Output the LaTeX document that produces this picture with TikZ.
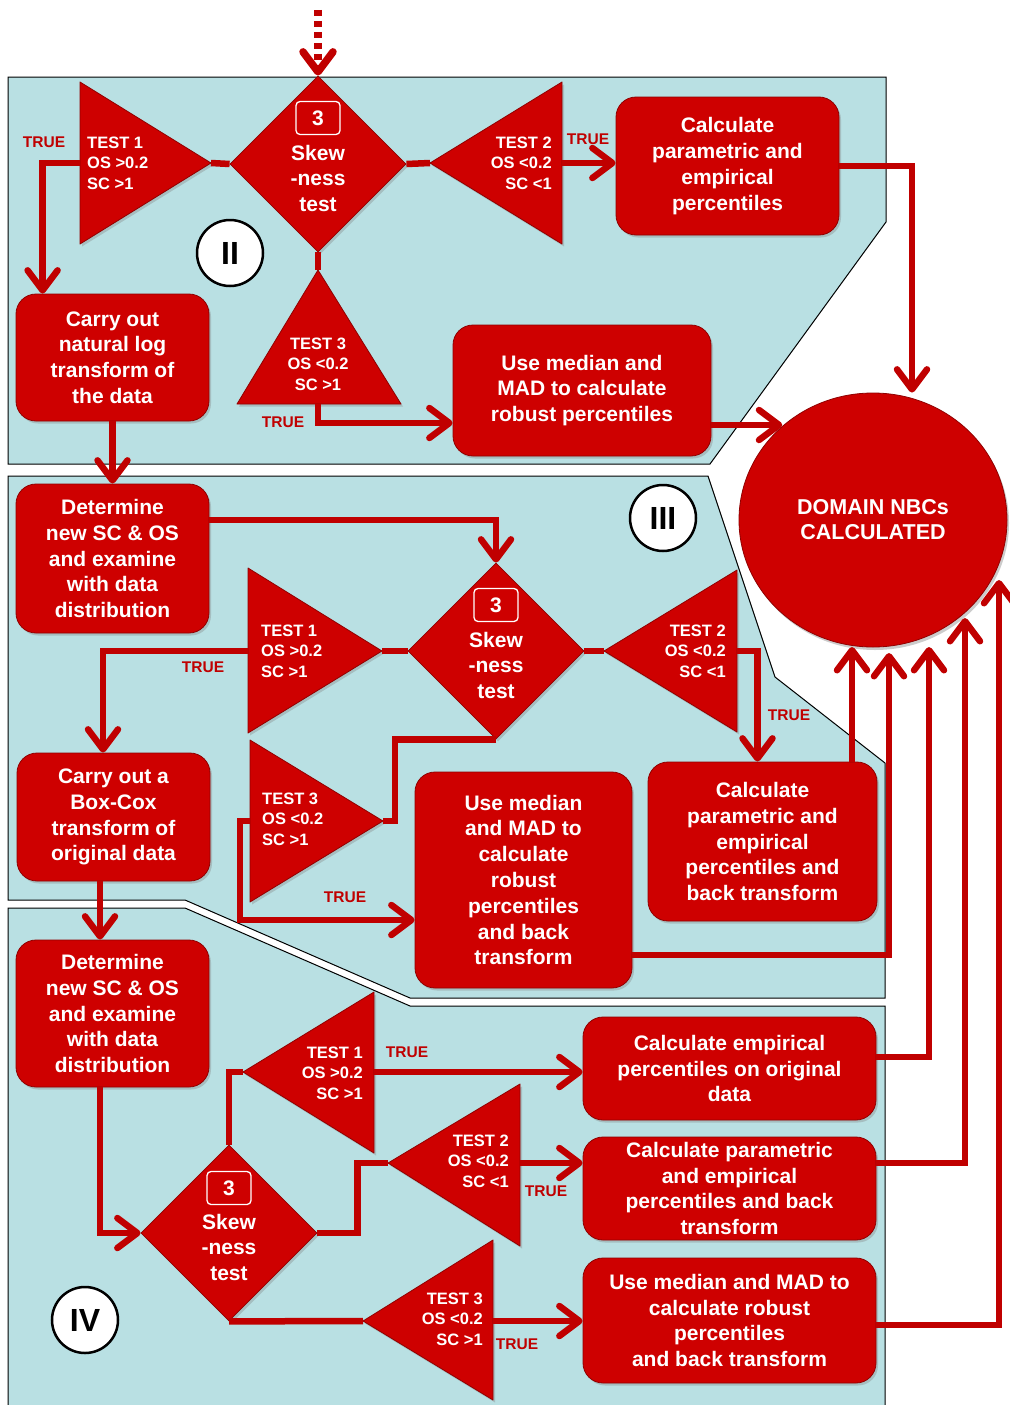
\documentclass[tikz,border=0pt]{standalone}
\usepackage{fontspec}
\setmainfont{Liberation Sans}
\usetikzlibrary{shapes.geometric,arrows.meta,shadows}

\definecolor{panelblue}{RGB}{185,224,227}
\definecolor{boxred}{RGB}{206,0,0}
\definecolor{linered}{RGB}{192,0,0}

\begin{document}
\begin{tikzpicture}[x=1pt, y=-1pt,
    panel/.style={fill=panelblue, draw=black, line width=1pt},
    redbox/.style={rectangle, rounded corners=20pt, fill=boxred, draw=boxred!70!black, line width=0.8pt,
        text=white, align=center, inner sep=0pt, font=\fontsize{21}{25.8}\selectfont\bfseries,
        drop shadow={shadow xshift=2pt, shadow yshift=-2.5pt, opacity=0.35}},
    skew/.style={diamond, minimum width=176pt, minimum height=176pt, inner sep=0pt, fill=boxred,
        draw=boxred!70!black, line width=0.8pt, drop shadow={shadow xshift=2pt, shadow yshift=-2.5pt, opacity=0.35}},
    testtri/.style={fill=boxred, draw=boxred!70!black, line width=0.8pt, line join=round,
        drop shadow={shadow xshift=2pt, shadow yshift=-2.5pt, opacity=0.35}},
    testtxt/.style={text=white, inner sep=0pt, font=\fontsize{16.5}{20.5}\selectfont\bfseries},
    skewtxt/.style={text=white, align=center, inner sep=0pt, font=\fontsize{21}{25.5}\selectfont\bfseries},
    numbox/.style={draw=white, line width=1.3pt, rounded corners=4pt, minimum width=44pt, minimum height=33pt,
        inner sep=0pt, text=white, font=\fontsize{21}{21}\selectfont\bfseries},
    truelbl/.style={text=linered, inner sep=0pt, font=\fontsize{15.5}{15.5}\selectfont\bfseries},
    roman/.style={circle, draw=black, line width=2.5pt, fill=white, minimum size=66pt, inner sep=0pt,
        font=\fontsize{32}{32}\selectfont\bfseries},
    endnode/.style={ellipse, minimum width=268pt, minimum height=254pt, inner sep=0pt, fill=boxred,
        draw=boxred!70!black, line width=0.8pt, text=white, align=center,
        font=\fontsize{21.5}{25}\selectfont\bfseries,
        drop shadow={shadow xshift=2pt, shadow yshift=-3pt, opacity=0.4}},
    conn/.style={draw=linered, line width=6.5pt},
    arr/.style={conn, -{Straight Barb[length=20pt,width=30pt,round]}},
    ]

\fill[white] (0,0) rectangle (1009,1405);
\useasboundingbox (0,0) rectangle (1009,1405);

% Panels
\draw[panel] (8,77) -- (886,77) -- (886,222) -- (710,464) -- (8,464) -- cycle;
\draw[panel] (8,476) -- (708,476) -- (775,677) -- (885,763) -- (885,998) -- (410,998) -- (185,900) -- (8,900) -- cycle;
\draw[panel] (8,1415) -- (8,908) -- (185,908) -- (410,1006) -- (885,1006) -- (885,1415);

\node[roman] (romII) at (230,253) {II};
\node[roman] (romIII) at (663,518) {III};
\node[roman] (romIV) at (85,1320) {IV};

% Panel II
\node[skew] (skewa) at (318,164) {};
\node[numbox] (numa) at ([yshift=46pt]skewa.center) {3};
\node[skewtxt] (skewat) at ([yshift=-14pt]skewa.center) {Skew\\-ness\\test};

\draw[testtri] (80,82) -- (211,163) -- (80,244) -- cycle;
\coordinate (ta1a) at (211,163);
\coordinate (ta1b) at (80,163);
\node[testtxt, anchor=west, align=left] (ta1t) at (87,163) {TEST 1\\OS >0.2\\SC >1};

\draw[testtri] (562,82) -- (430,163) -- (562,244) -- cycle;
\coordinate (ta2a) at (430,163);
\coordinate (ta2b) at (562,163);
\node[testtxt, anchor=east, align=right] (ta2t) at (552,163) {TEST 2\\OS <0.2\\SC <1};

\draw[testtri] (318,270) -- (401,404) -- (237,404) -- cycle;
\coordinate (ta3a) at (318,270);
\coordinate (ta3b) at (318,404);
\node[testtxt, align=center] (ta3t) at (318,364) {TEST 3\\OS <0.2\\SC >1};

\node[redbox, minimum width=223pt, minimum height=138pt] (calca) at (727.5,166) {Calculate\\parametric and\\empirical\\percentiles};
\node[redbox, minimum width=193pt, minimum height=127pt] (lnbox) at (112.5,357.5) {Carry out\\natural log\\transform of\\the data};
\node[redbox, minimum width=258pt, minimum height=131pt] (meda) at (582,390.5) {Use median and\\MAD to calculate\\robust percentiles};

\node[endnode] (done) at (873,520) {DOMAIN NBCs\\CALCULATED};

% Panel III
\node[redbox, minimum width=193pt, minimum height=149pt] (detb) at (112.5,558.5) {Determine\\new SC \& OS\\and examine\\with data\\distribution};

\node[skew] (skewb) at (496,651) {};
\node[numbox] (numb) at ([yshift=46pt]skewb.center) {3};
\node[skewtxt] (skewbt) at ([yshift=-14pt]skewb.center) {Skew\\-ness\\test};

\draw[testtri] (248,568) -- (382,651) -- (248,733) -- cycle;
\coordinate (tb1a) at (382,651);
\coordinate (tb1b) at (248,651);
\node[testtxt, anchor=west, align=left] (tb1t) at (261,651) {TEST 1\\OS >0.2\\SC >1};

\draw[testtri] (737,570) -- (604,651) -- (737,732) -- cycle;
\coordinate (tb2a) at (604,651);
\coordinate (tb2b) at (737,651);
\node[testtxt, anchor=east, align=right] (tb2t) at (726,651) {TEST 2\\OS <0.2\\SC <1};

\draw[testtri] (250,740) -- (383,821) -- (250,902) -- cycle;
\coordinate (tb3a) at (383,821);
\coordinate (tb3b) at (250,821);
\node[testtxt, anchor=west, align=left] (tb3t) at (262,819) {TEST 3\\OS <0.2\\SC >1};

\node[redbox, minimum width=193pt, minimum height=128pt] (boxcox) at (113.5,817) {Carry out a\\Box-Cox\\transform of\\original data};
\node[redbox, minimum width=217pt, minimum height=216pt] (medb) at (523.5,880) {Use median\\and MAD to\\calculate\\robust\\percentiles\\and back\\transform};
\node[redbox, minimum width=229pt, minimum height=159pt] (calcb) at (762.5,841.5) {Calculate\\parametric and\\empirical\\percentiles and\\back transform};

% Panel IV
\node[redbox, minimum width=193pt, minimum height=147pt] (detc) at (112.5,1013.5) {Determine\\new SC \& OS\\and examine\\with data\\distribution};

\node[skew] (skewc) at (229,1233) {};
\node[numbox] (numc) at ([yshift=45pt]skewc.center) {3};
\node[skewtxt] (skewct) at ([yshift=-14pt]skewc.center) {Skew\\-ness\\test};

\draw[testtri] (374,992) -- (243,1072) -- (374,1153) -- cycle;
\coordinate (tc1a) at (243,1072);
\coordinate (tc1b) at (374,1072);
\node[testtxt, anchor=east, align=right] (tc1t) at (363,1073) {TEST 1\\OS >0.2\\SC >1};

\draw[testtri] (520,1084) -- (388,1163) -- (520,1246) -- cycle;
\coordinate (tc2a) at (388,1163);
\coordinate (tc2b) at (520,1163);
\node[testtxt, anchor=east, align=right] (tc2t) at (509,1161) {TEST 2\\OS <0.2\\SC <1};

\draw[testtri] (493,1240) -- (363,1321) -- (493,1400) -- cycle;
\coordinate (tc3a) at (363,1321);
\coordinate (tc3b) at (493,1321);
\node[testtxt, anchor=east, align=right] (tc3t) at (483,1319) {TEST 3\\OS <0.2\\SC >1};

\node[redbox, minimum width=293pt, minimum height=103pt] (empc) at (729.5,1068.5) {Calculate empirical\\percentiles on original\\data};
\node[redbox, minimum width=293pt, minimum height=103pt] (calcc) at (729.5,1188.5) {Calculate parametric\\and empirical\\percentiles and back\\transform};
\node[redbox, minimum width=293pt, minimum height=125pt] (medc) at (729.5,1320.5) {Use median and MAD to\\calculate robust\\percentiles\\and back transform};

% TRUE labels
\node[truelbl] (tra1) at (44,142) {TRUE};
\node[truelbl] (tra2) at (588,139) {TRUE};
\node[truelbl] (tra3) at (283,422) {TRUE};
\node[truelbl] (trb1) at (203,667) {TRUE};
\node[truelbl] (trb2) at (789,715) {TRUE};
\node[truelbl] (trb3) at (345,897) {TRUE};
\node[truelbl] (trc1) at (407,1052) {TRUE};
\node[truelbl] (trc2) at (546,1191) {TRUE};
\node[truelbl] (trc3) at (517,1344) {TRUE};

% Connectors, panel II
\coordinate (entry) at (318,10);
\draw[arr, line width=7.5pt, dash pattern=on 6pt off 5pt] (entry) -- (skewa.north);
\draw[conn] (ta1a) -- (skewa.west);
\draw[conn] (skewa.east) -- (ta2a);
\draw[conn] (skewa.south) -- (ta3a);
\draw[arr] (ta1b) -| ([xshift=27pt]lnbox.north west);
\draw[arr] (ta2b) -- (ta2b -| calca.west);
\draw[arr] (ta3b) |- ([yshift=-32.5pt]meda.west);
\draw[arr] (calca.east) -| ([xshift=39pt]done.north);
\coordinate (mao) at ([yshift=-34.5pt]meda.east);
\draw[arr] (mao) -- (mao -| done.134);
\draw[arr] (lnbox.south) -- (detb.north);

% Connectors, panel III
\coordinate (dbo) at ([yshift=38.5pt]detb.east);
\draw[arr] (dbo) -| (skewb.north);
\draw[conn] (tb1a) -- (skewb.west);
\draw[conn] (skewb.east) -- (tb2a);
\draw[arr] (tb1b) -| ([xshift=-10.5pt]boxcox.north);
\draw[arr] (tb2b) -| ([xshift=-5pt]calcb.north);
\draw[conn] (skewb.south) -- ++(-101,0) |- (tb3a);
\draw[arr] (tb3b) -- ++(-10,0) |- ([yshift=-40pt]medb.west);
\draw[arr] ([xshift=89.5pt]calcb.north) -- ([shift={(-21,127)}]done.center);
\coordinate (mbo) at ([yshift=-75pt]medb.east);
\draw[arr] (mbo) -| ([shift={(16,133)}]done.center);
\coordinate (bco) at ([xshift=-13.5pt]boxcox.south);
\draw[arr] (bco) -- (bco |- detc.north);

% Connectors, panel IV
\coordinate (dco) at ([xshift=-12.5pt]detc.south);
\draw[arr] (dco) |- (skewc.west);
\draw[conn] (skewc.north) |- (tc1a);
\draw[conn] (skewc.east) -- ++(40,0) |- (tc2a);
\draw[conn] (skewc.south) -- (tc3a);
\draw[arr] (tc1b) -- (tc1b -| empc.west);
\draw[arr] (tc2b) -- (tc2b -| calcc.west);
\draw[arr] (tc3b) -- (tc3b -| medc.west);
\coordinate (eco) at ([yshift=11.5pt]empc.east);
\draw[arr] (eco) -| ([shift={(56,127)}]done.center);
\coordinate (cco) at ([yshift=25.5pt]calcc.east);
\draw[arr] (cco) -| ([shift={(92,98)}]done.center);
\coordinate (mco) at ([yshift=-4.5pt]medc.east);
\draw[arr] (mco) -| ([shift={(126,60)}]done.center);

\end{tikzpicture}
\end{document}
